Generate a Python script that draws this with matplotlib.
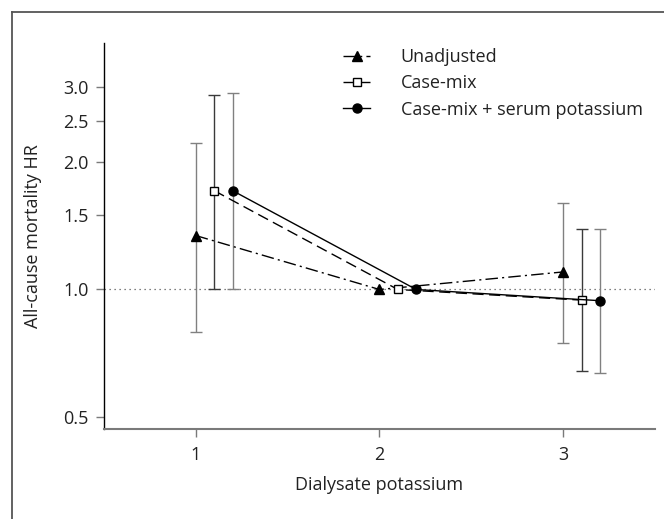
import matplotlib
matplotlib.use('Agg')
import matplotlib.pyplot as plt
from matplotlib.lines import Line2D
from matplotlib.ticker import FixedLocator, NullLocator

plt.rcParams['font.family'] = ['Open Sans', 'DejaVu Sans']
plt.rcParams['font.size'] = 13

# data
dialysate = [1, 2, 3]
offsets = [0.0, 0.1, 0.2]
labels = ['Unadjusted', 'Case-mix', 'Case-mix + serum potassium']

hr_unadj = [1.34, 1.0, 1.10]
lo_unadj = [0.795, None, 0.75]
hi_unadj = [2.21, None, 1.60]

hr_casemix = [1.71, 1.0, 0.944]
lo_casemix = [1.0, None, 0.644]
hi_casemix = [2.88, None, 1.39]

hr_serum = [1.71, 1.0, 0.941]
lo_serum = [1.0, None, 0.636]
hi_serum = [2.90, None, 1.39]

series = [
    (hr_unadj, lo_unadj, hi_unadj),
    (hr_casemix, lo_casemix, hi_casemix),
    (hr_serum, lo_serum, hi_serum),
]
styles = [
    dict(marker='^', markersize=7.5, mfc='black', dashes=(9, 3, 1.5, 3)),
    dict(marker='s', markersize=6, mfc='white', dashes=(8, 4)),
    dict(marker='o', markersize=6.5, mfc='black', linestyle='-'),
]
bar_colors = ['#808080', '#3a3a3a', '#808080']

fig = plt.figure(figsize=(6.64, 5.19), dpi=100)
ax = fig.add_axes([0.1566, 0.1734, 0.8298, 0.7437])

ax.axhline(1.0, color='#555555', linestyle=(0, (1, 3)), linewidth=0.9, zorder=1)

handles = []
for (hr, lo, hi), st, bc, lab, off in zip(series, styles, bar_colors, labels, offsets):
    xs = [d + off for d in dialysate]
    for x, y, l, h in zip(xs, hr, lo, hi):
        if l is None:
            continue
        ax.errorbar([x], [y], yerr=[[y - l], [h - y]], fmt='none', ecolor=bc,
                    elinewidth=1.0, capsize=4.5, capthick=1.0, zorder=2)
    line, = ax.plot(xs, hr, color='black', linewidth=1.0, mec='black',
                    zorder=3, label=lab, **st)
    handles.append(line)

ax.set_yscale('log')
ax.set_ylim(0.469, 3.81)
ax.set_xlim(0.5, 3.5)
ax.yaxis.set_major_locator(FixedLocator([0.5, 1.0, 1.5, 2.0, 2.5, 3.0]))
ax.set_yticklabels(['0.5', '1.0', '1.5', '2.0', '2.5', '3.0'])
ax.yaxis.set_minor_locator(NullLocator())
ax.set_xticks(dialysate)

ax.spines['top'].set_visible(False)
ax.spines['right'].set_visible(False)
ax.spines['left'].set_color('black')
ax.spines['left'].set_linewidth(1.0)
ax.spines['bottom'].set_color('#7a7a7a')
ax.spines['bottom'].set_linewidth(1.5)
ax.tick_params(axis='both', colors='#7a7a7a', labelcolor='#222222',
               length=6, width=1.0, labelsize=13)
ax.tick_params(axis='x', pad=6)
ax.tick_params(axis='y', pad=5)

ax.set_xlabel('Dialysate potassium', color='#222222', labelpad=9)
ax.set_ylabel('All-cause mortality HR', color='#222222', labelpad=15)

ax.legend(handles=handles, loc='upper left', bbox_to_anchor=(334 / 664, 1 - 39 / 519),
          bbox_transform=fig.transFigure, frameon=False, borderpad=0,
          handlelength=1.5, handletextpad=1.7, labelspacing=0.46,
          fontsize=13, labelcolor='#222222')

# partial frame round the figure
fig.add_artist(Line2D([12 / 664, 1.0], [1 - 11.7 / 519] * 2, transform=fig.transFigure,
                      color='#555555', linewidth=1.3))
fig.add_artist(Line2D([12 / 664] * 2, [0.0, 1 - 11.7 / 519], transform=fig.transFigure,
                      color='#555555', linewidth=1.3))

plt.savefig('out.png', dpi=100)
